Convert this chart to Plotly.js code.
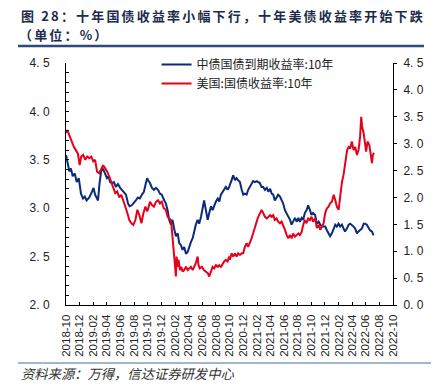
<!DOCTYPE html>
<html>
<head>
<meta charset="utf-8">
<script src="https://cdn.plot.ly/plotly-3.0.1.min.js"></script>
<style>html,body{margin:0;padding:0;background:#fff;}#chart{width:437px;height:386px;}</style>
</head>
<body>
<div id="chart"></div>
<script>
// ---------- DATA ----------
const titleLine1 = '图 28：十年国债收益率小幅下行，十年美债收益率开始下跌';
const titleLine2 = '（单位：%）';
const sourceText = '资料来源：万得，信达证券研发中心';
const cnName = '中债国债到期收益率:10年';
const usName = '美国:国债收益率:10年';

const cnDates = ['2018-10-01','2018-10-10','2018-10-16','2018-10-23','2018-10-31','2018-11-09','2018-11-18','2018-11-27','2018-12-07','2018-12-16','2018-12-24','2019-01-01','2019-01-13','2019-01-25','2019-02-01','2019-02-08','2019-02-21','2019-02-28','2019-03-07','2019-03-15','2019-03-25','2019-04-02','2019-04-09','2019-04-16','2019-04-24','2019-05-03','2019-05-12','2019-05-21','2019-05-31','2019-06-08','2019-06-17','2019-06-26','2019-07-05','2019-07-12','2019-07-22','2019-07-31','2019-08-09','2019-08-18','2019-08-27','2019-09-05','2019-09-14','2019-09-23','2019-09-29',
'2019-10-02','2019-10-11','2019-10-20','2019-10-29','2019-11-07','2019-11-16','2019-11-25','2019-12-03','2019-12-14','2019-12-21','2019-12-29','2020-01-05','2020-01-13','2020-01-20','2020-01-27','2020-02-04','2020-02-12','2020-02-19','2020-02-26','2020-03-05','2020-03-12','2020-03-20','2020-03-28','2020-04-03','2020-04-11','2020-04-19','2020-04-26','2020-05-03','2020-05-11','2020-05-18','2020-05-26','2020-06-02','2020-06-09','2020-06-17','2020-06-25','2020-07-02','2020-07-10','2020-07-17','2020-07-24','2020-08-01','2020-08-09','2020-08-16','2020-08-23','2020-08-31','2020-09-07','2020-09-14','2020-09-22','2020-09-29',
'2020-10-10','2020-10-17','2020-10-25','2020-11-01','2020-11-08','2020-11-16','2020-11-24','2020-12-01','2020-12-08','2020-12-16','2020-12-23','2020-12-31','2021-01-07','2021-01-14','2021-01-22','2021-01-30','2021-02-06','2021-02-13','2021-02-21','2021-02-28','2021-03-08','2021-03-16','2021-03-23','2021-03-31','2021-04-07','2021-04-14','2021-04-21','2021-04-29','2021-05-06','2021-05-14','2021-05-21','2021-05-28','2021-06-05','2021-06-13','2021-06-20','2021-06-28','2021-07-05','2021-07-12','2021-07-20','2021-07-28','2021-08-04','2021-08-11','2021-08-19','2021-08-26','2021-09-02','2021-09-10','2021-09-17','2021-09-25','2021-10-02','2021-10-09','2021-10-18',
'2021-10-26','2021-11-03','2021-11-10','2021-11-18','2021-11-25','2021-12-02','2021-12-10','2021-12-17','2021-12-24','2022-01-01','2022-01-09','2022-01-16','2022-01-23','2022-01-31','2022-02-07','2022-02-15','2022-02-22','2022-03-01','2022-03-09','2022-03-17','2022-03-24','2022-03-31','2022-04-08','2022-04-15','2022-04-23','2022-04-30','2022-05-07','2022-05-15','2022-05-23','2022-05-30','2022-06-06','2022-06-14','2022-06-21','2022-06-29','2022-07-06'];
const cnYield = [3.55,3.45,3.38,3.41,3.33,3.36,3.27,3.31,3.15,3.10,3.12,3.08,3.11,3.17,3.21,3.14,3.08,3.26,3.38,3.41,3.36,3.31,3.33,3.27,3.26,3.27,3.22,3.25,3.21,3.19,3.17,3.14,3.05,3.02,3.03,3.05,3.08,3.11,3.10,3.14,3.17,3.26,3.31,
3.29,3.26,3.21,3.19,3.21,3.19,3.15,3.14,3.08,3.05,2.98,2.88,2.83,2.88,2.79,2.71,2.74,2.64,2.62,2.57,2.60,2.53,2.55,2.60,2.65,2.69,2.77,2.83,2.88,2.84,2.91,2.98,3.08,2.98,2.88,2.95,3.02,2.98,3.03,3.07,3.10,3.07,3.14,3.17,3.19,3.22,3.19,3.22,
3.29,3.34,3.29,3.31,3.29,3.27,3.19,3.14,3.15,3.14,3.19,3.22,3.26,3.28,3.27,3.28,3.27,3.26,3.22,3.22,3.19,3.21,3.17,3.20,3.15,3.14,3.08,3.11,3.14,3.12,3.08,3.05,2.98,2.95,2.91,2.88,2.83,2.86,2.90,2.86,2.90,2.86,2.90,2.88,2.95,2.98,3.03,2.98,2.93,2.95,2.93,
2.84,2.86,2.83,2.81,2.81,2.81,2.77,2.74,2.71,2.74,2.79,2.83,2.81,2.84,2.81,2.83,2.79,2.76,2.79,2.83,2.84,2.83,2.81,2.79,2.74,2.76,2.77,2.79,2.84,2.84,2.83,2.79,2.77,2.76,2.72];

const usDates = ['2018-10-01','2018-10-04','2018-10-10','2018-10-18','2018-10-27','2018-11-05','2018-11-14','2018-11-23','2018-12-01','2018-12-08','2018-12-17','2018-12-26','2019-01-04','2019-01-13','2019-01-22','2019-01-31','2019-02-08','2019-02-17','2019-02-26','2019-03-07','2019-03-16','2019-03-25','2019-04-03','2019-04-12','2019-04-21','2019-04-30','2019-05-09','2019-05-18','2019-05-27','2019-06-05','2019-06-14','2019-06-23','2019-07-02','2019-07-11','2019-07-20','2019-07-29','2019-08-07','2019-08-16','2019-08-25','2019-09-03','2019-09-12','2019-09-21','2019-09-29',
'2019-10-02','2019-10-11','2019-10-20','2019-10-29','2019-11-07','2019-11-16','2019-11-25','2019-12-03','2019-12-12','2019-12-21','2019-12-29','2020-01-05','2020-01-13','2020-01-17','2020-01-23','2020-01-29','2020-02-01','2020-02-04','2020-02-07','2020-02-12','2020-02-16','2020-02-22','2020-02-28','2020-03-05','2020-03-12','2020-03-20','2020-03-28','2020-04-03','2020-04-11','2020-04-19','2020-04-26','2020-05-03','2020-05-11','2020-05-15','2020-05-21','2020-05-30','2020-06-08','2020-06-17','2020-06-26','2020-07-02','2020-07-10','2020-07-17','2020-07-24','2020-08-01','2020-08-09','2020-08-16','2020-08-23','2020-08-31','2020-09-07','2020-09-14','2020-09-22','2020-09-29',
'2020-10-02','2020-10-10','2020-10-17','2020-10-25','2020-11-01','2020-11-08','2020-11-16','2020-11-24','2020-12-01','2020-12-08','2020-12-16','2020-12-23','2020-12-31','2021-01-07','2021-01-14','2021-01-22','2021-01-30','2021-02-06','2021-02-13','2021-02-21','2021-02-28','2021-03-08','2021-03-16','2021-03-23','2021-03-31','2021-04-07','2021-04-14','2021-04-21','2021-04-29','2021-05-06','2021-05-14','2021-05-21','2021-05-28','2021-06-05','2021-06-13','2021-06-20','2021-06-28','2021-07-05','2021-07-12','2021-07-20','2021-07-28','2021-08-04','2021-08-11','2021-08-19','2021-08-26','2021-09-02','2021-09-10','2021-09-17','2021-09-25','2021-10-02','2021-10-09','2021-10-18',
'2021-10-26','2021-11-03','2021-11-10','2021-11-18','2021-11-25','2021-12-02','2021-12-10','2021-12-17','2021-12-24','2022-01-01','2022-01-09','2022-01-16','2022-01-23','2022-01-31','2022-02-07','2022-02-15','2022-02-22','2022-03-01','2022-03-05','2022-03-10','2022-03-17','2022-03-24','2022-03-31','2022-04-08','2022-04-15','2022-04-23','2022-04-30','2022-05-07','2022-05-12','2022-05-16','2022-05-23','2022-05-30','2022-06-03','2022-06-09','2022-06-17','2022-06-23','2022-06-29','2022-07-03','2022-07-08'];
const usYield = [3.20,3.25,3.22,3.13,3.04,2.94,2.88,2.82,2.60,2.76,2.79,2.70,2.76,2.73,2.76,2.67,2.70,2.48,2.45,2.54,2.60,2.54,2.48,2.39,2.29,2.20,2.08,2.11,2.00,2.05,1.95,1.83,1.71,1.58,1.52,1.49,1.58,1.77,1.67,1.52,1.71,1.83,1.74,
1.77,1.92,1.86,1.83,1.92,1.95,1.89,1.92,1.80,1.77,1.64,1.61,1.58,1.40,1.15,0.90,0.71,0.53,0.90,0.71,0.84,0.65,0.71,0.62,0.65,0.71,0.65,0.68,0.71,0.65,0.71,0.78,0.90,0.74,0.68,0.71,0.65,0.62,0.59,0.53,0.65,0.71,0.68,0.74,0.71,0.74,0.71,0.78,0.81,0.84,0.81,0.90,
0.84,0.96,0.90,0.96,0.90,0.96,0.93,0.96,0.96,1.08,1.15,1.08,1.15,1.24,1.33,1.46,1.55,1.64,1.71,1.77,1.71,1.64,1.61,1.64,1.67,1.64,1.67,1.58,1.61,1.55,1.52,1.55,1.49,1.40,1.30,1.24,1.30,1.24,1.33,1.27,1.30,1.33,1.30,1.36,1.49,1.58,1.52,1.61,1.58,1.64,1.55,1.61,
1.43,1.49,1.40,1.46,1.52,1.71,1.80,1.83,1.89,1.92,2.05,1.95,1.83,1.77,2.08,2.29,2.42,2.60,2.76,2.88,2.94,2.91,3.04,2.88,2.94,2.79,2.88,3.13,3.50,3.32,3.19,3.01,2.85,3.04,2.98,2.82,2.64,2.79,2.83];

const xRange = ['2018-10-01','2022-10-01'];
const leftTickVals = [2.0,2.5,3.0,3.5,4.0,4.5];
const leftTickText = ['2. 0','2. 5','3. 0','3. 5','4. 0','4. 5'];
const rightTickVals = [0,0.5,1.0,1.5,2.0,2.5,3.0,3.5,4.0,4.5];
const rightTickText = ['0. 0','0. 5','1. 0','1. 5','2. 0','2. 5','3. 0','3. 5','4. 0','4. 5'];

// ---------- STYLE ----------
const CJK = '"Noto Sans CJK SC", "Noto Sans", sans-serif';
const LAT = '"Liberation Sans", Arial, sans-serif';
const spaced = s => s.split('').join('\u2006');
const px = v => (v - 66) / 327;      // page x (px) -> paper x
const py = v => (305 - v) / 242;     // page y (px) -> paper y

const traces = [
  {x: cnDates, y: cnYield, name: cnName, type: 'scatter', mode: 'lines', yaxis: 'y',
   line: {color: '#0a2a7a', width: 2}},
  {x: usDates, y: usYield, name: usName, type: 'scatter', mode: 'lines', yaxis: 'y2',
   line: {color: '#e6001a', width: 2}}
];

const layout = {
  width: 437, height: 386,
  margin: {l: 66, r: 44, t: 63, b: 81, pad: 0},
  paper_bgcolor: '#fff', plot_bgcolor: '#fff',
  showlegend: true,
  legend: {x: 0.277, y: 1.054, xanchor: 'left', yanchor: 'top', bgcolor: 'rgba(0,0,0,0)',
    font: {family: CJK, size: 12, color: '#222'}, tracegroupgap: 0, itemwidth: 30},
  xaxis: {type: 'date', range: xRange, tick0: '2018-10-01', dtick: 'M2', tickformat: '%Y-%m',
    tickangle: -90, ticks: 'inside', ticklen: 3, tickcolor: '#000', tickwidth: 1,
    showline: true, linecolor: '#000', linewidth: 1, showgrid: false, zeroline: false,
    ticklabelstandoff: 4, tickfont: {family: LAT, size: 11.5, color: '#222'}},
  yaxis: {range: [2, 4.5], tickmode: 'array', tickvals: leftTickVals, ticktext: leftTickText,
    ticks: 'inside', ticklen: 3, tickcolor: '#000',
    minor: {tickmode: 'linear', tick0: 2, dtick: 0.1, ticks: 'inside', ticklen: 3, tickcolor: '#000'},
    showline: true, linecolor: '#000', linewidth: 1, showgrid: false, zeroline: false,
    ticklabelstandoff: 13, tickfont: {family: LAT, size: 12, color: '#222'}},
  yaxis2: {overlaying: 'y', side: 'right', range: [0, 4.5], tickmode: 'array',
    tickvals: rightTickVals, ticktext: rightTickText,
    ticks: 'outside', ticklen: 3, tickcolor: '#000',
    showline: true, linecolor: '#000', linewidth: 1, showgrid: false, zeroline: false,
    ticklabelstandoff: 4, tickfont: {family: LAT, size: 12, color: '#222'}},
  shapes: [
    {type: 'line', xref: 'paper', yref: 'paper', x0: px(18), x1: px(424),
     y0: py(46), y1: py(46), line: {color: '#2e4a7d', width: 2.5}},
    {type: 'line', xref: 'paper', yref: 'paper', x0: px(18), x1: px(431),
     y0: py(363), y1: py(363), line: {color: '#4a6a9a', width: 1}}
  ],
  annotations: [
    {text: '<b>' + spaced(titleLine1) + '</b>', xref: 'paper', yref: 'paper',
     x: px(19), xanchor: 'left', y: py(15), yanchor: 'middle', showarrow: false,
     font: {family: CJK, size: 13, color: '#1c2b4a'}},
    {text: '<b>' + spaced(titleLine2) + '</b>', xref: 'paper', yref: 'paper',
     x: px(17), xanchor: 'left', y: py(34), yanchor: 'middle', showarrow: false,
     font: {family: CJK, size: 13, color: '#1c2b4a'}},
    {text: '<i>' + sourceText + '</i>', xref: 'paper', yref: 'paper',
     x: px(19), xanchor: 'left', y: py(373), yanchor: 'middle',
     showarrow: false, font: {family: CJK, size: 13.3, color: '#333'}}
  ]
};

Plotly.newPlot('chart', traces, layout, {displayModeBar: false, staticPlot: true});
</script>
</body>
</html>
